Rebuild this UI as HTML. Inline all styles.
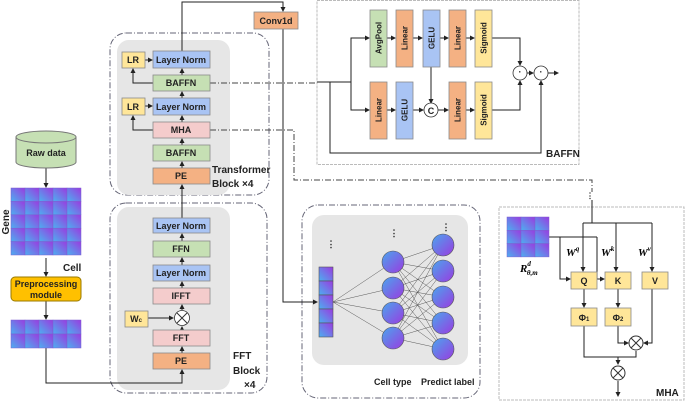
<!DOCTYPE html>
<html><head><meta charset="utf-8"><style>
html,body{margin:0;padding:0;background:#fff;}
svg{display:block;font-family:"Liberation Sans",sans-serif;}
.t{font-size:9px;font-weight:bold;fill:#222;text-anchor:middle;dominant-baseline:central;}
.l{font-size:10px;font-weight:bold;fill:#222;}
</style></head><body>
<svg width="685" height="403" viewBox="0 0 685 403" xmlns="http://www.w3.org/2000/svg">
<defs>
<linearGradient id="g" x1="1" y1="0" x2="0" y2="1"><stop offset="0" stop-color="#9a3be0"/><stop offset="1" stop-color="#4cb0f0"/></linearGradient>
<linearGradient id="gn" x1="0" y1="0" x2="1" y2="1"><stop offset="0" stop-color="#4aa6ee"/><stop offset="1" stop-color="#9a3be0"/></linearGradient>
<marker id="a" markerWidth="5" markerHeight="5" refX="4" refY="2.5" orient="auto"><path d="M0,0 L5,2.5 L0,5z" fill="#222"/></marker>
</defs>
<g fill="none" stroke="#555" stroke-width="1">
<rect x="110" y="33" width="159" height="162" rx="16" stroke="#667" stroke-dasharray="6,2,1,2"/>
<rect x="110" y="203" width="157" height="190" rx="16" stroke="#667" stroke-dasharray="6,2,1,2"/>
<rect x="302" y="205" width="178" height="193" rx="16" stroke="#667" stroke-dasharray="6,2,1,2"/>
<rect x="317" y="0.5" width="262" height="164" stroke="#bbb" stroke-dasharray="3,1"/>
<rect x="499" y="207" width="185" height="193" stroke="#bbb" stroke-dasharray="3,1"/>
</g>
<rect x="117" y="40" width="113" height="155" rx="12" fill="#e6e6e6"/>
<rect x="117" y="207" width="113" height="183" rx="12" fill="#e6e6e6"/>
<rect x="312" y="215" width="156" height="150" rx="12" fill="#e6e6e6"/>

<g stroke="#222" stroke-width="1" fill="none">
<path d="M182 51 V2 H283 V11" marker-end="url(#a)"/>
<path d="M283 29 V302 H317" marker-end="url(#a)"/>
<path d="M182 75 V69" marker-end="url(#a)"/>
<path d="M182 98 V92" marker-end="url(#a)"/>
<path d="M182 122 V116" marker-end="url(#a)"/>
<path d="M182 145 V139" marker-end="url(#a)"/>
<path d="M182 168 V162" marker-end="url(#a)"/>
<path d="M182 218 V185" marker-end="url(#a)"/>
<path d="M145 60 H152" marker-end="url(#a)"/>
<path d="M145 106 H152" marker-end="url(#a)"/>
<path d="M153 83 H133 V69" marker-end="url(#a)"/>
<path d="M153 130 H133 V116" marker-end="url(#a)"/>
<path d="M182 241 V234" marker-end="url(#a)"/>
<path d="M182 265 V258" marker-end="url(#a)"/>
<path d="M182 288 V282" marker-end="url(#a)"/>
<path d="M182 310 V305" marker-end="url(#a)"/>
<path d="M182 330 V327" marker-end="url(#a)"/>
<path d="M182 353 V347" marker-end="url(#a)"/>
<path d="M148 318 H173" marker-end="url(#a)"/>
<path d="M46 348 V383 H182 V370" marker-end="url(#a)"/>
<path d="M46 168 V187" marker-end="url(#a)"/>
<path d="M46 258 V276" marker-end="url(#a)"/>
<path d="M46 301 V319" marker-end="url(#a)"/>
<path d="M210 83 H317" stroke-dasharray="6,2,1,2" stroke="#444"/>
<path d="M210 130 H294 V180 H592 V192" stroke-dasharray="6,2,1,2" stroke="#444"/>
<path d="M317 82 H351" />
<path d="M351 82 V38 H369" marker-end="url(#a)"/>
<path d="M351 82 V110 H369" marker-end="url(#a)"/>
<path d="M330 82 V153 H541 V81" marker-end="url(#a)"/>
<path d="M387 38 H395" marker-end="url(#a)"/>
<path d="M413 38 H422" marker-end="url(#a)"/>
<path d="M440 38 H448" marker-end="url(#a)"/>
<path d="M466 38 H474" marker-end="url(#a)"/>
<path d="M492 38 H520 V65" marker-end="url(#a)"/>
<path d="M387 110 H395" marker-end="url(#a)"/>
<path d="M413 110 H423" marker-end="url(#a)"/>
<path d="M431 67 V103" marker-end="url(#a)"/>
<path d="M438 110 H448" marker-end="url(#a)"/>
<path d="M466 110 H474" marker-end="url(#a)"/>
<path d="M492 110 H520 V81" marker-end="url(#a)"/>
<path d="M527 73 H533" marker-end="url(#a)"/>
<path d="M548 73 H558" marker-end="url(#a)"/>
<path d="M592 200 V223"/>
<path d="M583 223 H652"/>
<path d="M583 223 V271" marker-end="url(#a)"/>
<path d="M616 223 V271" marker-end="url(#a)"/>
<path d="M652 223 V271" marker-end="url(#a)"/>
<path d="M549 237 H597"/>
<path d="M560 237 V279 H570" marker-end="url(#a)"/>
<path d="M597 237 V279 H604" marker-end="url(#a)"/>
<path d="M584 289 V307" marker-end="url(#a)"/>
<path d="M618 289 V307" marker-end="url(#a)"/>
<path d="M618 326 V343 H628" marker-end="url(#a)"/>
<path d="M652 289 V343 H644" marker-end="url(#a)"/>
<path d="M584 326 V357 H636 V351"/>
<path d="M618 357 V364" marker-end="url(#a)"/>
<path d="M618 381 V396" marker-end="url(#a)"/>
</g>
<text x="590" y="196" class="t" style="font-size:8px">⋮</text>

<g stroke="#8a8a8a" stroke-width="0.8">
<rect x="122" y="52" width="23" height="16" fill="#ffe699"/>
<rect x="153" y="51" width="57" height="17" fill="#a9c4f4"/>
<rect x="153" y="75" width="57" height="16" fill="#c6e0b4"/>
<rect x="122" y="98" width="23" height="17" fill="#ffe699"/>
<rect x="153" y="98" width="57" height="17" fill="#a9c4f4"/>
<rect x="153" y="122" width="57" height="16" fill="#f4cccc"/>
<rect x="153" y="145" width="57" height="16" fill="#c6e0b4"/>
<rect x="153" y="168" width="57" height="16" fill="#f4b183"/>
<rect x="254" y="12" width="44" height="17" fill="#f4b183"/>
<rect x="153" y="218" width="57" height="15" fill="#a9c4f4"/>
<rect x="153" y="241" width="57" height="16" fill="#c6e0b4"/>
<rect x="153" y="265" width="57" height="16" fill="#a9c4f4"/>
<rect x="153" y="288" width="57" height="16" fill="#f4cccc"/>
<rect x="153" y="330" width="57" height="16" fill="#f4cccc"/>
<rect x="153" y="353" width="57" height="16" fill="#f4b183"/>
<rect x="125" y="311" width="23" height="16" fill="#ffe699"/>
<circle cx="182" cy="318" r="7.5" fill="#fff" stroke="#333"/>
</g>
<path d="M177 313 L187 323 M187 313 L177 323" stroke="#333"/>
<text class="t" x="133" y="60">LR</text><text class="t" x="181" y="60">Layer Norm</text>
<text class="t" x="181" y="83">BAFFN</text>
<text class="t" x="133" y="107">LR</text><text class="t" x="181" y="107">Layer Norm</text>
<text class="t" x="181" y="130">MHA</text><text class="t" x="181" y="153">BAFFN</text><text class="t" x="181" y="176">PE</text>
<text class="t" x="276" y="21">Conv1d</text>
<text class="t" x="181" y="226">Layer Norm</text><text class="t" x="181" y="249">FFN</text>
<text class="t" x="181" y="273">Layer Norm</text><text class="t" x="181" y="296">IFFT</text>
<text class="t" x="181" y="338">FFT</text><text class="t" x="181" y="361">PE</text>
<text class="t" x="136" y="319">W<tspan font-size="6" dy="2">c</tspan></text>
<text class="l" x="212" y="173">Transformer</text><text class="l" x="212" y="187">Block  ×4</text>
<text class="l" x="233" y="359">FFT</text><text class="l" x="233" y="374">Block</text><text class="l" x="244" y="388">×4</text>

<path d="M16 137 V162 A30 6 0 0 0 76 162 V137" fill="#c6e0b4" stroke="#777"/>
<ellipse cx="46" cy="137" rx="30" ry="6" fill="#c6e0b4" stroke="#777"/>
<text class="t" x="46" y="153">Raw data</text>
<g stroke="#7a5fd0" stroke-width="0.5" fill="url(#g)">
<rect x="11" y="188" width="14" height="13.4"/><rect x="25" y="188" width="14" height="13.4"/><rect x="39" y="188" width="14" height="13.4"/><rect x="53" y="188" width="14" height="13.4"/><rect x="67" y="188" width="14" height="13.4"/>
<rect x="11" y="201.4" width="14" height="13.4"/><rect x="25" y="201.4" width="14" height="13.4"/><rect x="39" y="201.4" width="14" height="13.4"/><rect x="53" y="201.4" width="14" height="13.4"/><rect x="67" y="201.4" width="14" height="13.4"/>
<rect x="11" y="214.8" width="14" height="13.4"/><rect x="25" y="214.8" width="14" height="13.4"/><rect x="39" y="214.8" width="14" height="13.4"/><rect x="53" y="214.8" width="14" height="13.4"/><rect x="67" y="214.8" width="14" height="13.4"/>
<rect x="11" y="228.2" width="14" height="13.4"/><rect x="25" y="228.2" width="14" height="13.4"/><rect x="39" y="228.2" width="14" height="13.4"/><rect x="53" y="228.2" width="14" height="13.4"/><rect x="67" y="228.2" width="14" height="13.4"/>
<rect x="11" y="241.6" width="14" height="13.4"/><rect x="25" y="241.6" width="14" height="13.4"/><rect x="39" y="241.6" width="14" height="13.4"/><rect x="53" y="241.6" width="14" height="13.4"/><rect x="67" y="241.6" width="14" height="13.4"/>
<rect x="11" y="320" width="14" height="14"/><rect x="25" y="320" width="14" height="14"/><rect x="39" y="320" width="14" height="14"/><rect x="53" y="320" width="14" height="14"/><rect x="67" y="320" width="14" height="14"/>
<rect x="11" y="334" width="14" height="14"/><rect x="25" y="334" width="14" height="14"/><rect x="39" y="334" width="14" height="14"/><rect x="53" y="334" width="14" height="14"/><rect x="67" y="334" width="14" height="14"/>
<rect x="507" y="217" width="14" height="13.3"/><rect x="521" y="217" width="14" height="13.3"/><rect x="535" y="217" width="14" height="13.3"/>
<rect x="507" y="230.3" width="14" height="13.3"/><rect x="521" y="230.3" width="14" height="13.3"/><rect x="535" y="230.3" width="14" height="13.3"/>
<rect x="507" y="243.6" width="14" height="13.3"/><rect x="521" y="243.6" width="14" height="13.3"/><rect x="535" y="243.6" width="14" height="13.3"/>
</g>
<text class="l" x="0" y="0" transform="translate(9,222) rotate(-90)" text-anchor="middle">Gene</text>
<text class="l" x="63" y="271">Cell</text>
<rect x="11" y="277" width="70" height="24" rx="4" fill="#ffc000" stroke="#997a00"/>
<text class="t" x="46" y="284">Preprocessing</text><text class="t" x="46" y="295">module</text>

<g stroke="#8a8a8a" stroke-width="0.8">
<rect x="370" y="10" width="17" height="57" fill="#c6e0b4"/>
<rect x="396" y="10" width="17" height="57" fill="#f4b183"/>
<rect x="423" y="10" width="17" height="57" fill="#a9c4f4"/>
<rect x="449" y="10" width="17" height="57" fill="#f4b183"/>
<rect x="475" y="10" width="17" height="57" fill="#ffe699"/>
<rect x="370" y="82" width="17" height="57" fill="#f4b183"/>
<rect x="396" y="82" width="17" height="57" fill="#a9c4f4"/>
<rect x="449" y="82" width="17" height="57" fill="#f4b183"/>
<rect x="475" y="82" width="17" height="57" fill="#ffe699"/>
<circle cx="431" cy="110" r="7" fill="#fff" stroke="#333"/>
<circle cx="520" cy="73" r="7" fill="#fff" stroke="#333"/>
<circle cx="541" cy="73" r="7" fill="#fff" stroke="#333"/>
</g>
<text class="t" style="font-size:8px" transform="translate(379,38) rotate(-90)">AvgPool</text>
<text class="t" style="font-size:8px" transform="translate(405,38) rotate(-90)">Linear</text>
<text class="t" style="font-size:8px" transform="translate(432,38) rotate(-90)">GELU</text>
<text class="t" style="font-size:8px" transform="translate(458,38) rotate(-90)">Linear</text>
<text class="t" style="font-size:8px" transform="translate(484,38) rotate(-90)">Sigmoid</text>
<text class="t" style="font-size:8px" transform="translate(379,110) rotate(-90)">Linear</text>
<text class="t" style="font-size:8px" transform="translate(405,110) rotate(-90)">GELU</text>
<text class="t" style="font-size:8px" transform="translate(458,110) rotate(-90)">Linear</text>
<text class="t" style="font-size:8px" transform="translate(484,110) rotate(-90)">Sigmoid</text>
<text class="t" x="431" y="111">C</text>
<text class="t" x="520" y="72">·</text><text class="t" x="541" y="72">·</text>
<text class="l" x="546" y="157">BAFFN</text>

<g stroke="#333" stroke-width="0.4">
<path d="M333 302 L393 262 M333 302 L393 288 M333 302 L393 313 M333 302 L393 338"/>
<path d="M393 262 L443 245 M393 262 L443 271 M393 262 L443 297 M393 262 L443 323 M393 262 L443 349
M393 288 L443 245 M393 288 L443 271 M393 288 L443 297 M393 288 L443 323 M393 288 L443 349
M393 313 L443 245 M393 313 L443 271 M393 313 L443 297 M393 313 L443 323 M393 313 L443 349
M393 338 L443 245 M393 338 L443 271 M393 338 L443 297 M393 338 L443 323 M393 338 L443 349"/>
</g>
<g stroke="#555" stroke-width="0.6">
<rect x="319" y="267" width="14" height="14" fill="url(#g)"/><rect x="319" y="281" width="14" height="14" fill="url(#g)"/>
<rect x="319" y="295" width="14" height="14" fill="url(#g)"/><rect x="319" y="309" width="14" height="14" fill="url(#g)"/>
<rect x="319" y="323" width="14" height="14" fill="url(#g)"/>
<circle cx="393" cy="262" r="11" fill="url(#gn)"/><circle cx="393" cy="288" r="11" fill="url(#gn)"/>
<circle cx="393" cy="313" r="11" fill="url(#gn)"/><circle cx="393" cy="338" r="11" fill="url(#gn)"/>
<circle cx="443" cy="245" r="11" fill="url(#gn)"/><circle cx="443" cy="271" r="11" fill="url(#gn)"/>
<circle cx="443" cy="297" r="11" fill="url(#gn)"/><circle cx="443" cy="323" r="11" fill="url(#gn)"/>
<circle cx="443" cy="349" r="11" fill="url(#gn)"/>
</g>
<text class="t" x="331" y="244">⋮</text><text class="t" x="394" y="233">⋮</text><text class="t" x="446" y="227">⋮</text>
<text class="l" x="374" y="385" style="font-size:9px">Cell type</text>
<text class="l" x="421" y="385" style="font-size:9px">Predict label</text>

<text x="520" y="272" style="font-family:'Liberation Serif',serif;font-style:italic;font-weight:bold;font-size:11px">R<tspan font-size="7" dy="-6">d</tspan><tspan font-size="7" dx="-4" dy="9">θ,m</tspan></text>
<g stroke="#8a8a8a" stroke-width="0.8" fill="#ffe699">
<rect x="571" y="272" width="26" height="17"/><rect x="605" y="272" width="26" height="17"/><rect x="642" y="272" width="26" height="17"/>
<rect x="571" y="308" width="26" height="18"/><rect x="605" y="308" width="26" height="18"/>
</g>
<circle cx="636" cy="343" r="7" fill="#fff" stroke="#333"/><path d="M631 338L641 348M641 338L631 348" stroke="#333"/>
<circle cx="618" cy="373" r="7" fill="#fff" stroke="#333"/><path d="M613 368L623 378M623 368L613 378" stroke="#333"/>
<text class="t" x="584" y="281">Q</text><text class="t" x="618" y="281">K</text><text class="t" x="655" y="281">V</text>
<text class="t" x="584" y="318">Φ<tspan font-size="6" dy="2">1</tspan></text>
<text class="t" x="618" y="318">Φ<tspan font-size="6" dy="2">2</tspan></text>
<g style="font-family:'Liberation Serif',serif;font-style:italic;font-weight:bold;font-size:11px">
<text x="566" y="256">W<tspan font-size="7" dy="-5">q</tspan></text>
<text x="601" y="256">W<tspan font-size="7" dy="-5">k</tspan></text>
<text x="638" y="256">W<tspan font-size="7" dy="-5">v</tspan></text>
</g>
<text class="l" x="656" y="396">MHA</text>
</svg>
</body></html>
